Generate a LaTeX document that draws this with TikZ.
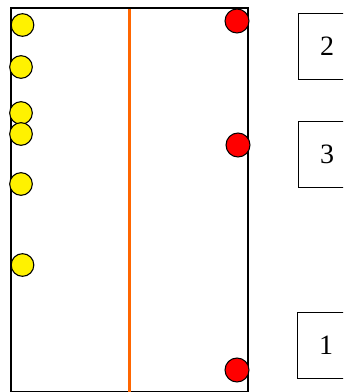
\documentclass[tikz,border=0pt]{standalone}
\usepackage{fontspec}
\setmainfont{Liberation Serif}
\usepackage{tikz}
\tikzset{
  yellowdot/.style={circle,draw=black,thick,fill=yellow,minimum size=17pt,inner sep=0pt},
  reddot/.style={circle,draw=black,thick,fill=red,minimum size=18pt,inner sep=0pt},
  numbox/.style={draw=black,thick,minimum width=43pt,minimum height=49.5pt,inner sep=0pt,font=\fontsize{21}{24}\selectfont}
}
\begin{document}
\begin{tikzpicture}[x=0.75pt,y=-0.75pt]
        \useasboundingbox (0,0) rectangle (343,392);
        \clip (0,0) rectangle (343,392);

        %------------------
        % frame
        %------------------
        \draw[line width=1.6pt] (11,8) rectangle (248,392);
        \draw[line width=1.9pt,color={rgb,255:red,255;green,102;blue,0}] (129.5,9) -- (129.5,392);

        %------------------
        % yellow dots (left)
        %------------------
        \node[yellowdot] (y1) at (22.5,25) {};
        \node[yellowdot] (y2) at (21,67) {};
        \node[yellowdot] (y3) at (21,113) {};
        \node[yellowdot] (y4) at (21,134) {};
        \node[yellowdot] (y5) at (21,184) {};
        \node[yellowdot] (y6) at (22.5,265) {};

        %------------------
        % red dots (right)
        %------------------
        \node[reddot] (r1) at (237,21) {};
        \node[reddot] (r2) at (238,145) {};
        \node[reddot] (r3) at (237,370) {};

        %------------------
        % boxes
        %------------------
        \node[numbox,anchor=north west] (b2) at (298,13) {2};
        \node[numbox,anchor=north west] (b3) at (298,121) {3};
        \node[numbox,anchor=north west] (b1) at (297,312) {1};
      \end{tikzpicture}
\end{document}
